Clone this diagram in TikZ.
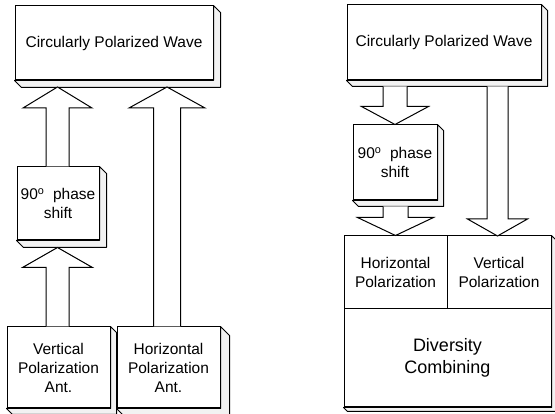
\documentclass[tikz,border=0pt]{standalone}
\usepackage{fontspec}
\setmainfont{Liberation Sans}
\usetikzlibrary{calc}
\tikzset{
  box/.style={draw, fill=white, line width=1pt, inner sep=0pt, align=center,
    font=\fontsize{15.5}{19}\selectfont},
  face/.style={draw, fill=gray!10, line width=1pt, line join=round},
  arr/.style={draw, fill=white, line width=1pt, line join=miter}
}
% #1 node, #2 depth
\newcommand{\depthbox}[2]{%
  \draw[face] (#1.north east) -- ++(#2,#2) -- ($(#1.south east)+(#2,#2)$)
    -- ($(#1.south west)+(#2,#2)$) -- (#1.south west) -- (#1.south east) -- cycle;}
% #1 tip, #2 tail reference (y), #3 shaft half width, #4 head half width, #5 head length (signed)
\newcommand{\blkarrow}[5]{%
  \draw[arr] ($(#1 |- #2)+(-#3,0)$) -- ($(#1)+(-#3,#5)$) -- ($(#1)+(-#4,#5)$) -- (#1)
    -- ($(#1)+(#4,#5)$) -- ($(#1)+(#3,#5)$) -- ($(#1 |- #2)+(#3,0)$);}
\begin{document}
\begin{tikzpicture}[x=1pt,y=-1pt]
\useasboundingbox (0,0) rectangle (555,414);
% ---------- left diagram ----------
\node[box, minimum width=198pt, minimum height=74pt] (lcpw) at (114,43) {Circularly Polarized Wave};
\depthbox{lcpw}{7}
\node[box, minimum width=82pt, minimum height=73pt] (lph) at (58,203.5) {90\textsuperscript{o} \ phase\\shift};
\depthbox{lph}{7}
\node[box, minimum width=103pt, minimum height=81pt] (lvpa) at (58.5,367.5) {Vertical\\Polarization\\Ant.};
\depthbox{lvpa}{6}
\node[box, minimum width=103pt, minimum height=81pt] (lhpa) at (168.5,367.5) {Horizontal\\Polarization\\Ant.};
\depthbox{lhpa}{9}
\coordinate (la1) at (57.5,87);
\coordinate (la2) at (57.5,247.5);
\coordinate (la3) at (167,87);
\blkarrow{la1}{lph.north}{11.5}{34.5}{21}
\blkarrow{la2}{lvpa.north}{11.5}{35}{20}
\blkarrow{la3}{lhpa.north}{13.5}{38}{21}
% ---------- right diagram ----------
\node[box, minimum width=194pt, minimum height=75pt] (rcpw) at (444,42.5) {Circularly Polarized Wave};
\depthbox{rcpw}{6}
\node[box, minimum width=84pt, minimum height=75pt] (rph) at (395,162.5) {90\textsuperscript{o} \ phase\\shift};
\depthbox{rph}{6}
\node[box, minimum width=103pt, minimum height=73pt] (rhp) at (395.5,272.5) {Horizontal\\Polarization};
\node[box, minimum width=104pt, minimum height=73pt] (rvp) at (499,272.5) {Vertical\\Polarization};
\node[box, minimum width=207pt, minimum height=98pt, font=\fontsize{18}{22}\selectfont] (rdc) at (447.5,358) {Diversity\\Combining};
\draw[face] (rvp.north east) -- ++(4,4) -- ($(rdc.south east)+(4,4)$)
  -- ($(rdc.south west)+(4,4)$) -- (rdc.south west) -- (rdc.south east) -- (rvp.north east) -- cycle;
\coordinate (rcb) at ($(rcpw.south)+(0,6)$);
\coordinate (rpb) at ($(rph.south)+(0,6)$);
\coordinate (ra3) at (497.5,236);
\blkarrow{rph.north}{rcb}{12}{33.5}{-18}
\blkarrow{rhp.north}{rpb}{12.5}{38}{-18}
\blkarrow{ra3}{rcb}{10.5}{30}{-17}
\end{tikzpicture}
\end{document}
